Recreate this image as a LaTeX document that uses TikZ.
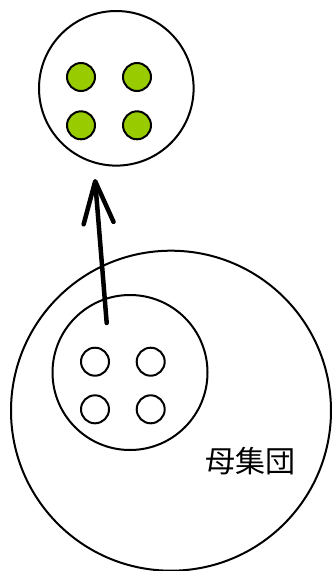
\documentclass[tikz,border=0pt]{standalone}
\usepackage{fontspec}
\newfontfamily\jpfont{Noto Sans CJK JP}
\usetikzlibrary{arrows.meta}
\definecolor{leaf}{RGB}{153,204,0}

\begin{document}
\begin{tikzpicture}[x=1pt,y=-1pt,line width=2pt,
  ring/.style={draw,circle,inner sep=0pt,outer sep=0pt,minimum size=#1},
  ball/.style={draw,circle,inner sep=0pt,outer sep=0pt,minimum size=28pt,fill=#1}]
\useasboundingbox (0,0) rectangle (333,571);
% population and drawn subset
\node[ring=320pt] (pop) at (171,410.7) {};
\node[ring=155pt] (subset) at (130,372.5) {};
\node[ball=white] (w1) at (95,361.7) {};
\node[ball=white] (w2) at (150.7,361.7) {};
\node[ball=white] (w3) at (95,409.3) {};
\node[ball=white] (w4) at (150.7,409.3) {};
\node[font=\jpfont\fontsize{30pt}{30pt}\selectfont] (poplabel) at (250,461.5) {母集団};
% sample
\node[ring=154.6pt] (sample) at (116.3,88.3) {};
\node[ball=leaf] (g1) at (81,77) {};
\node[ball=leaf] (g2) at (137,77) {};
\node[ball=leaf] (g3) at (81,125.3) {};
\node[ball=leaf] (g4) at (137,125.3) {};
% draw a sample
\coordinate (from) at (106.7,323);
\coordinate (to) at (95,179);
\draw[line width=4.5pt,line cap=round,-{Straight Barb[length=42pt,width=30pt,round]}] (from) -- (to);
\end{tikzpicture}
\end{document}
